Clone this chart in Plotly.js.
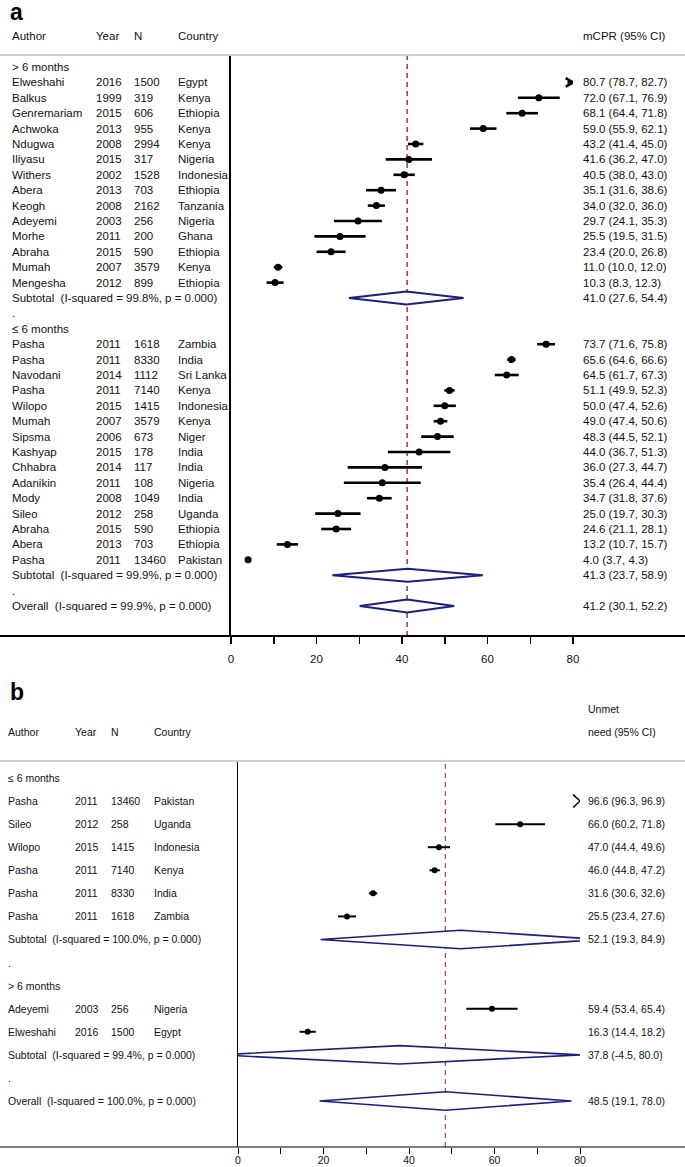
<!DOCTYPE html>
<html><head><meta charset="utf-8">
<script src="https://cdn.plot.ly/plotly-3.0.1.min.js"></script>
<style>html,body{margin:0;padding:0;background:#fff;}#chart{width:685px;height:1167px;}</style>
</head><body><div id="chart"></div>
<script>
// ---------- Panel a: mCPR ----------
const aHeaderRight = ["mCPR (95% CI)"];
const aG1Label = "> 6 months";
const aG1Authors = ["Elweshahi","Balkus","Genremariam","Achwoka","Ndugwa","Iliyasu","Withers","Abera","Keogh","Adeyemi","Morhe","Abraha","Mumah","Mengesha"];
const aG1Years = [2016,1999,2015,2013,2008,2015,2002,2013,2008,2003,2011,2015,2007,2012];
const aG1N = [1500,319,606,955,2994,317,1528,703,2162,256,200,590,3579,899];
const aG1Country = ["Egypt","Kenya","Ethiopia","Kenya","Kenya","Nigeria","Indonesia","Ethiopia","Tanzania","Nigeria","Ghana","Ethiopia","Kenya","Ethiopia"];
const aG1Est = [80.7,72.0,68.1,59.0,43.2,41.6,40.5,35.1,34.0,29.7,25.5,23.4,11.0,10.3];
const aG1Low = [78.7,67.1,64.4,55.9,41.4,36.2,38.0,31.6,32.0,24.1,19.5,20.0,10.0,8.3];
const aG1High = [82.7,76.9,71.8,62.1,45.0,47.0,43.0,38.6,36.0,35.3,31.5,26.8,12.0,12.3];
const aG1Sub = [41.0,27.6,54.4];
const aG1Isq = "99.8%";

const aG2Label = "\u2264 6 months";
const aG2Authors = ["Pasha","Pasha","Navodani","Pasha","Wilopo","Mumah","Sipsma","Kashyap","Chhabra","Adanikin","Mody","Sileo","Abraha","Abera","Pasha"];
const aG2Years = [2011,2011,2014,2011,2015,2007,2006,2015,2014,2011,2008,2012,2015,2013,2011];
const aG2N = [1618,8330,1112,7140,1415,3579,673,178,117,108,1049,258,590,703,13460];
const aG2Country = ["Zambia","India","Sri Lanka","Kenya","Indonesia","Kenya","Niger","India","India","Nigeria","India","Uganda","Ethiopia","Ethiopia","Pakistan"];
const aG2Est = [73.7,65.6,64.5,51.1,50.0,49.0,48.3,44.0,36.0,35.4,34.7,25.0,24.6,13.2,4.0];
const aG2Low = [71.6,64.6,61.7,49.9,47.4,47.4,44.5,36.7,27.3,26.4,31.8,19.7,21.1,10.7,3.7];
const aG2High = [75.8,66.6,67.3,52.3,52.6,50.6,52.1,51.3,44.7,44.4,37.6,30.3,28.1,15.7,4.3];
const aG2Sub = [41.3,23.7,58.9];
const aG2Isq = "99.9%";

const aOverall = [41.2,30.1,52.2];
const aOverallIsq = "99.9%";

// ---------- Panel b: Unmet need ----------
const bHeaderRight = ["Unmet","need (95% CI)"];
const bG1Label = "\u2264 6 months";
const bG1Authors = ["Pasha","Sileo","Wilopo","Pasha","Pasha","Pasha"];
const bG1Years = [2011,2012,2015,2011,2011,2011];
const bG1N = [13460,258,1415,7140,8330,1618];
const bG1Country = ["Pakistan","Uganda","Indonesia","Kenya","India","Zambia"];
const bG1Est = [96.6,66.0,47.0,46.0,31.6,25.5];
const bG1Low = [96.3,60.2,44.4,44.8,30.6,23.4];
const bG1High = [96.9,71.8,49.6,47.2,32.6,27.6];
const bG1Sub = [52.1,19.3,84.9];
const bG1Isq = "100.0%";

const bG2Label = "> 6 months";
const bG2Authors = ["Adeyemi","Elweshahi"];
const bG2Years = [2003,2016];
const bG2N = [256,1500];
const bG2Country = ["Nigeria","Egypt"];
const bG2Est = [59.4,16.3];
const bG2Low = [53.4,14.4];
const bG2High = [65.4,18.2];
const bG2Sub = [37.8,-4.5,80.0];
const bG2Isq = "99.4%";

const bOverall = [48.5,19.1,78.0];
const bOverallIsq = "100.0%";

const pValue = "0.000";
const colHeaders = ["Author","Year","N","Country"];
const tickVals = [0,10,20,30,40,50,60,70,80];
const tickText = ["0","","20","","40","","60","","80"];
const xMax = 80;

// ---------- layout constants ----------
const W = 685, H = 1167;
const FONT = '"Liberation Sans", Arial, Helvetica, sans-serif';
const NAVY = '#1b1f7e';
const RED = '#a8424c';

const panels = [
  {key:'a', xa:'x', ya:'y', xk:'xaxis', yk:'yaxis',
   groups:[
     {label:aG1Label, authors:aG1Authors, years:aG1Years, ns:aG1N, countries:aG1Country, est:aG1Est, low:aG1Low, high:aG1High, sub:aG1Sub, isq:aG1Isq},
     {label:aG2Label, authors:aG2Authors, years:aG2Years, ns:aG2N, countries:aG2Country, est:aG2Est, low:aG2Low, high:aG2High, sub:aG2Sub, isq:aG2Isq}],
   overall:aOverall, overallIsq:aOverallIsq, headerRight:aHeaderRight,
   rowTop:67, rowStep:15.4, plotTop:55, plotBottom:636, plotLeft:231, plotRight:573,
   cols:[11,95,133,177], rightCol:582, headerY:[36], labelY:12, font:11.5,
   dH:0.42, ciW:2.6, mSize:7, arrD:1.7, arrH:0.28, arrW:2.6, axW:2, yW:2, tickLen:7, tickW:1.5, standoff:5, dW:2, dashW:1.6},
  {key:'b', xa:'x2', ya:'y2', xk:'xaxis2', yk:'yaxis2',
   groups:[
     {label:bG1Label, authors:bG1Authors, years:bG1Years, ns:bG1N, countries:bG1Country, est:bG1Est, low:bG1Low, high:bG1High, sub:bG1Sub, isq:bG1Isq},
     {label:bG2Label, authors:bG2Authors, years:bG2Years, ns:bG2N, countries:bG2Country, est:bG2Est, low:bG2Low, high:bG2High, sub:bG2Sub, isq:bG2Isq}],
   overall:bOverall, overallIsq:bOverallIsq, headerRight:bHeaderRight,
   rowTop:778, rowStep:23.07, plotTop:761, plotBottom:1147, plotLeft:238, plotRight:580,
   cols:[7,74,110,153], rightCol:587, headerY:[709,732], labelY:692, font:10.5,
   dH:0.40, ciW:2, mSize:6, arrD:1.6, arrH:0.28, arrW:1.5, axW:1.2, yW:1.2, tickLen:6, tickW:1, standoff:-3, dW:1.6, dashW:1.2}
];

const traces = [], annotations = [], shapes = [];
const layout = {width:W, height:H, margin:{l:0,r:0,t:0,b:0}, paper_bgcolor:'#fff', plot_bgcolor:'rgba(0,0,0,0)',
  showlegend:false, font:{family:FONT, color:'#111'}, annotations, shapes};

function fmt(v){ return v.toFixed(1); }
function ann(text, x, y, yref, size, extra){
  annotations.push(Object.assign({text, x, y, xref:'paper', yref, xanchor:'left', yanchor:'middle',
    showarrow:false, font:{family:FONT, size, color:'#111'}, borderpad:0}, extra||{}));
}

panels.forEach(p => {
  const rows = [];
  p.groups.forEach(g => {
    rows.push({type:'label', text:g.label});
    g.authors.forEach((a,i) => rows.push({type:'study', cells:[a, String(g.years[i]), String(g.ns[i]), g.countries[i]], est:g.est[i], low:g.low[i], high:g.high[i]}));
    rows.push({type:'pool', text:'Subtotal\u00a0 (I-squared = ' + g.isq + ', p = ' + pValue + ')', est:g.sub[0], low:g.sub[1], high:g.sub[2]});
    rows.push({type:'dot'});
  });
  rows.push({type:'pool', text:'Overall\u00a0 (I-squared = ' + p.overallIsq + ', p = ' + pValue + ')', est:p.overall[0], low:p.overall[1], high:p.overall[2]});

  const kBottom = (p.plotBottom - p.rowTop) / p.rowStep;
  const kTop = (p.plotTop - p.rowTop) / p.rowStep;
  layout[p.xk] = {domain:[p.plotLeft/W, p.plotRight/W], range:[0, xMax], anchor:p.ya,
    showgrid:false, zeroline:false, showline:false, ticks:'outside', ticklen:p.tickLen, tickwidth:p.tickW, tickcolor:'#000',
    tickmode:'array', tickvals:tickVals, ticktext:tickText, tickfont:{family:FONT, size:p.font, color:'#111'},
    ticklabelstandoff:p.standoff, automargin:false, fixedrange:true};
  layout[p.yk] = {domain:[1 - p.plotBottom/H, 1 - p.plotTop/H], range:[kBottom, kTop], anchor:p.xa,
    showgrid:false, zeroline:false, showline:true, linecolor:'#000', linewidth:p.yW, ticks:'', showticklabels:false, automargin:false, fixedrange:true};

  const cx = [], cy = [], px = [], py = [];
  rows.forEach((r,k) => {
    if (r.type === 'study') {
      cx.push(r.low, r.high, null); cy.push(k, k, null);
      px.push(r.est); py.push(k);
      if (r.high > xMax) {
        traces.push({type:'scatter', mode:'lines', xaxis:p.xa, yaxis:p.ya, hoverinfo:'skip',
          x:[xMax - p.arrD, xMax, xMax - p.arrD], y:[k - p.arrH, k, k + p.arrH],
          line:{color:'#000', width:p.arrW}});
      }
    }
  });
  traces.push({type:'scatter', mode:'lines', xaxis:p.xa, yaxis:p.ya, x:cx, y:cy, hoverinfo:'skip',
    line:{color:'#000', width:p.ciW}, connectgaps:false});
  traces.push({type:'scatter', mode:'markers', xaxis:p.xa, yaxis:p.ya, x:px, y:py, hoverinfo:'skip',
    marker:{symbol:'circle', size:p.mSize, color:'#000'}});

  rows.forEach((r,k) => {
    if (r.type === 'pool') {
      traces.push({type:'scatter', mode:'lines', xaxis:p.xa, yaxis:p.ya, hoverinfo:'skip', fill:'toself', fillcolor:'#fff',
        x:[r.low, r.est, r.high, r.est, r.low], y:[k, k - p.dH, k, k + p.dH, k],
        line:{color:NAVY, width:p.dW}});
    }
  });

  const yr = p.ya;
  rows.forEach((r,k) => {
    if (r.type === 'label') ann(r.text, p.cols[0]/W, k, yr, p.font);
    else if (r.type === 'dot') ann('.', p.cols[0]/W, k, yr, p.font);
    else if (r.type === 'study') {
      r.cells.forEach((c,ci) => ann(c, p.cols[ci]/W, k, yr, p.font));
      ann(fmt(r.est) + ' (' + fmt(r.low) + ', ' + fmt(r.high) + ')', p.rightCol/W, k, yr, p.font);
    } else if (r.type === 'pool') {
      ann(r.text, p.cols[0]/W, k, yr, p.font);
      ann(fmt(r.est) + ' (' + fmt(r.low) + ', ' + fmt(r.high) + ')', p.rightCol/W, k, yr, p.font);
    }
  });
  const hy = p.headerY[p.headerY.length - 1];
  colHeaders.forEach((h,ci) => ann(h, p.cols[ci]/W, 1 - hy/H, 'paper', p.font));
  p.headerRight.forEach((h,i) => ann(h, p.rightCol/W, 1 - p.headerY[i]/H, 'paper', p.font));
  annotations.push({text:'<b>' + p.key + '</b>', x:9/W, y:1 - p.labelY/H, xref:'paper', yref:'paper', xanchor:'left', yanchor:'middle',
    showarrow:false, font:{family:FONT, size:23, color:'#000'}, borderpad:0});

  shapes.push({type:'line', xref:'paper', yref:p.ya + ' domain', x0:0, x1:1, y0:1, y1:1, line:{color:'#cfcfcf', width:2}});
  shapes.push({type:'line', xref:'paper', yref:p.ya + ' domain', x0:0, x1:1, y0:0, y1:0, line:{color:'#000', width:p.axW}});
  shapes.push({type:'line', xref:p.xa, yref:p.ya + ' domain', x0:p.overall[0], x1:p.overall[0], y0:0, y1:1, layer:'below',
    line:{color:RED, width:p.dashW, dash:'5px,4px'}});
});

Plotly.newPlot('chart', traces, layout, {staticPlot:true, displayModeBar:false});
</script>
</body></html>
